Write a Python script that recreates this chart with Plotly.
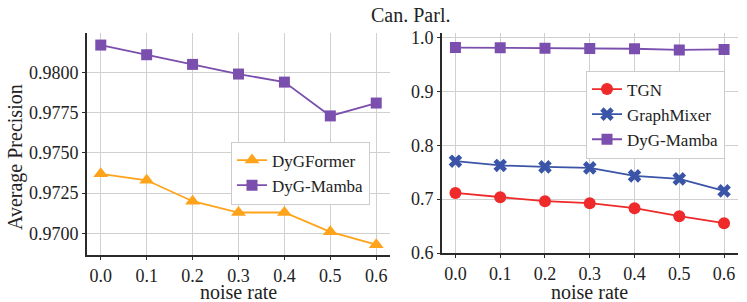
import plotly.graph_objects as go

noise = [0.0, 0.1, 0.2, 0.3, 0.4, 0.5, 0.6]
dygformer = [0.9737, 0.9733, 0.9720, 0.9713, 0.9713, 0.9701, 0.9693]
dygmamba = [0.9817, 0.9811, 0.9805, 0.9799, 0.9794, 0.9773, 0.9781]
tgn = [0.7116, 0.7036, 0.6962, 0.6925, 0.6832, 0.6683, 0.6553]
graphmixer = [0.7706, 0.7626, 0.7600, 0.7581, 0.7433, 0.7377, 0.7154]
left_yticks = [0.9700, 0.9725, 0.9750, 0.9775, 0.9800]
right_yticks = [0.6, 0.7, 0.8, 0.9, 1.0]
title_text = "Can. Parl."

ORANGE = "#FFA31A"
PURPLE = "#7B4FAE"
RED = "#EE2A2A"
BLUE = "#3A55A8"
FONT = "Liberation Serif, serif"
W, H = 747, 302


def px(x):
    return x / W


def py(y):
    return 1 - y / H


fig = go.Figure()
fig.add_trace(go.Scatter(x=noise, y=dygformer, name="DyGFormer", mode="lines+markers",
                         line=dict(color=ORANGE, width=1.8),
                         marker=dict(symbol="triangle-up", size=13, color=ORANGE),
                         xaxis="x", yaxis="y", legend="legend"))
fig.add_trace(go.Scatter(x=noise, y=dygmamba, name="DyG-Mamba", mode="lines+markers",
                         line=dict(color=PURPLE, width=1.8),
                         marker=dict(symbol="square", size=11, color=PURPLE),
                         xaxis="x", yaxis="y", legend="legend"))
fig.add_trace(go.Scatter(x=noise, y=tgn, name="TGN", mode="lines+markers",
                         line=dict(color=RED, width=1.8),
                         marker=dict(symbol="circle", size=12, color=RED),
                         xaxis="x2", yaxis="y2", legend="legend2"))
fig.add_trace(go.Scatter(x=noise, y=graphmixer, name="GraphMixer", mode="lines+markers",
                         line=dict(color=BLUE, width=1.8),
                         marker=dict(symbol="x", size=12, color=BLUE),
                         xaxis="x2", yaxis="y2", legend="legend2"))
fig.add_trace(go.Scatter(x=noise, y=dygmamba, name="DyG-Mamba", mode="lines+markers",
                         line=dict(color=PURPLE, width=1.8),
                         marker=dict(symbol="square", size=11, color=PURPLE),
                         xaxis="x2", yaxis="y2", legend="legend2"))

tick_font = dict(family=FONT, size=18, color="#222")
axis_common = dict(showline=True, linecolor="#2a2a2a", linewidth=2, mirror=False,
                   showgrid=True, gridcolor="#d0d0d0", gridwidth=1, zeroline=False,
                   ticks="outside", ticklen=3, tickwidth=1, tickcolor="#2a2a2a",
                   tickfont=tick_font)

fig.update_layout(
    template="none",
    width=W, height=H,
    margin=dict(l=0, r=0, t=0, b=0),
    paper_bgcolor="white", plot_bgcolor="white",
    font=dict(family=FONT, size=18, color="#222"),
    xaxis=dict(domain=[px(87), px(390)], range=[-0.03, 0.63], tickvals=noise,
               tickformat=".1f", anchor="y", **axis_common),
    yaxis=dict(domain=[py(255), py(33)], range=[0.96866, 0.98245],
               tickvals=left_yticks, tickformat=".4f", anchor="x", **axis_common),
    xaxis2=dict(domain=[px(442), px(737.5)], range=[-0.03, 0.63], tickvals=noise,
                tickformat=".1f", anchor="y2", **axis_common),
    yaxis2=dict(domain=[py(253), py(33)], range=[0.6, 1.0087],
                tickvals=right_yticks, tickformat=".1f", anchor="x2", **axis_common),
    legend=dict(x=px(231), y=py(141.5), xanchor="left", yanchor="top",
                bgcolor="white", bordercolor="#cccccc", borderwidth=1,
                font=dict(family=FONT, size=17, color="#222"),
                tracegroupgap=0, itemwidth=30),
    legend2=dict(x=px(586), y=py(70.5), xanchor="left", yanchor="top",
                 bgcolor="white", bordercolor="#cccccc", borderwidth=1,
                 font=dict(family=FONT, size=17, color="#222"),
                 tracegroupgap=0, itemwidth=30),
    showlegend=True,
)

annotations = [
    dict(text=title_text, x=px(411), y=py(15), xref="paper", yref="paper",
         showarrow=False, xanchor="center", yanchor="middle",
         font=dict(family=FONT, size=20, color="#222")),
    dict(text="noise rate", x=px((87 + 390) / 2), y=py(292), xref="paper", yref="paper",
         showarrow=False, xanchor="center", yanchor="middle",
         font=dict(family=FONT, size=20, color="#222")),
    dict(text="noise rate", x=px((442 + 737.5) / 2), y=py(292), xref="paper", yref="paper",
         showarrow=False, xanchor="center", yanchor="middle",
         font=dict(family=FONT, size=20, color="#222")),
    dict(text="Average Precision", x=px(15), y=py(157), xref="paper", yref="paper",
         showarrow=False, xanchor="center", yanchor="middle", textangle=-90,
         font=dict(family=FONT, size=20, color="#222")),
]
fig.update_layout(annotations=annotations)

post = (
    "document.body.style.margin='0';document.body.style.padding='0';"
    "var st=document.createElement('style');"
    "st.textContent='.js-plotly-plot svg text{font-family:\"Liberation Serif\",serif !important;}';"
    "document.head.appendChild(st);"
)
fig.write_html("out.html", config={"displayModeBar": False}, post_script=post)
